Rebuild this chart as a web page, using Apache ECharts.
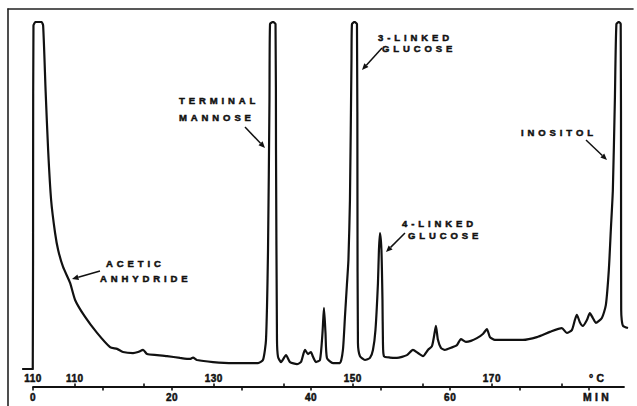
<!DOCTYPE html>
<html>
<head>
<meta charset="utf-8">
<script src="https://cdn.jsdelivr.net/npm/echarts@6/dist/echarts.min.js"></script>
<style>
  html, body { margin: 0; padding: 0; background: #fff; }
  #chart { width: 637px; height: 406px; }
  text[style*="9.5px"] { letter-spacing: 3.9px !important; }
  text[style*="10.4px"] { letter-spacing: 3.4px !important; }
  text[style*="10px"] { letter-spacing: 0.5px !important; }
</style>
</head>
<body>
<div id="chart"></div>
<script>
// Retention time (min) and detector response (% of full scale)
const timeMin = [
  -1.58, -0.05, 0.0, 0.05, 0.35, 1.2, 1.44, 1.8, 2.16, 2.59, 3.16, 3.6, 4.31, 5.32, 6.04, 7.48, 9.2,
  11.07, 12.08, 12.94, 14.38, 15.1, 15.82, 16.4, 17.83, 19.27, 21.14, 22.58, 23.01, 23.59, 25.89,
  28.76, 32.36, 33.08, 33.51, 33.8, 34.01, 34.09, 34.52, 34.88, 34.95, 35.09, 35.24, 35.67, 36.39,
  36.96, 37.97, 38.54, 39.12, 39.55, 39.98, 40.27, 40.7, 41.28, 41.64, 41.85, 42.07, 42.28, 43.15,
  44.15, 44.58, 44.87, 45.15, 45.37, 45.59, 45.81, 45.88, 46.24, 46.6, 46.67, 46.74, 47.03, 47.75,
  48.47, 48.9, 49.26, 49.62, 49.76, 49.91, 50.12, 50.27, 50.34, 50.48, 51.34, 52.35, 53.79, 54.65,
  55.37, 56.09, 56.81, 57.39, 57.67, 57.96, 58.25, 58.68, 59.25, 60.12, 60.98, 61.56, 62.28, 63.0,
  63.86, 64.72, 65.3, 65.73, 66.45, 68.17, 70.47, 72.49, 74.36, 76.08, 76.8, 77.52, 77.95, 78.24,
  78.67, 79.1, 79.68, 80.11, 80.54, 80.97, 81.84, 82.41, 82.84, 83.13, 83.42, 83.71, 83.93, 84.29,
  84.55, 84.6, 84.62, 84.7, 84.9, 85.6
];
const signal = [
  0, 0, 60, 99, 100, 100, 99, 80, 63.1, 48.7, 39.2, 34.3, 29.4, 24.8, 19.9, 15.0, 10.4,
  6.3, 5.8, 4.9, 4.6, 4.9, 5.5, 4.3, 4.0, 3.7, 3.2, 2.9, 3.3, 2.6, 2.0,
  1.7, 1.7, 2.6, 8.4, 34.3, 77.5, 99.4, 100, 99.4, 63.1, 8.4, 3.5, 2.0, 4.0,
  2.0, 1.4, 2.0, 5.5, 4.3, 4.9, 3.5, 2.0, 2.6, 10.4, 17.6, 10.4, 3.2, 1.7,
  1.7, 5.5, 15.0, 24.2, 31.4, 48.7, 89.0, 99.4, 100, 99.4, 48.7, 7.5, 3.7, 2.6,
  3.2, 5.5, 11.2, 24.8, 34.3, 39.2, 34.3, 19.9, 7.5, 3.7, 3.3, 3.2, 4.0, 5.5,
  4.6, 3.7, 5.5, 6.6, 9.2, 12.4, 8.4, 6.1, 5.5, 6.1, 6.9, 8.6, 7.8, 8.1,
  8.9, 10.1, 11.5, 9.2, 8.4, 8.4, 8.4, 9.2, 10.7, 11.8, 10.4, 11.2, 14.1, 15.6,
  13.5, 12.4, 14.1, 16.1, 14.7, 13.3, 14.7, 18.4, 28.5, 40.1, 51.6, 77.5, 99.4, 100,
  99.4, 48.7, 17.0, 14.1, 12.4, 11.8
];

// Time axis (minutes)
const timeTicks = [0, 10, 20, 30, 40, 50, 60, 70, 80];
const timeLabelPos = [0, 20, 40, 60, 81.2];
const timeLabels = ['0', '20', '40', '60', 'MIN'];

// Temperature programme (°C), placed at its time in minutes
const tempTicks = [6, 16, 26, 36, 46, 56, 66, 76];
const tempLabelPos = [0, 6, 26, 46, 66, 81.3];
const tempLabels = ['110', '110', '130', '150', '170', '°C'];

// Peak annotations
const peakNames = [['ACETIC', 'ANHYDRIDE'], ['TERMINAL', 'MANNOSE'], ['3-LINKED', 'GLUCOSE'], ['4-LINKED', 'GLUCOSE'], ['INOSITOL']];

const INK = '#111';
const FONT_FAMILY = '"Liberation Sans", Arial, sans-serif';

function pick(v, pos, labels) {
  for (let i = 0; i < pos.length; i++) if (Math.abs(pos[i] - v) < 0.01) return labels[i];
  return '';
}
function fmt(v, pos, labels) {
  const s = pick(v, pos, labels);
  return /[0-9]/.test(s) ? s : '{u|' + s + '}';
}

// annotation layout (pixels)
const textLayout = [
  [[106, 263], [100, 278]],
  [[179, 100.5], [179, 117]],
  [[378, 37], [382, 48]],
  [[402, 223.5], [408, 235]],
  [[521, 132]]
];
const arrowLayout = [
  [100, 271, 72, 279],
  [245, 127, 265, 148],
  [382, 48, 362, 70],
  [405, 233, 386, 252],
  [586, 140, 607, 160]
];

const graphics = [];
peakNames.forEach((lines, i) => {
  lines.forEach((txt, j) => {
    graphics.push({
      type: 'text', silent: true,
      style: {
        x: textLayout[i][j][0], y: textLayout[i][j][1], text: txt,
        fill: INK, stroke: INK, lineWidth: 0.5, font: 'bold 9.5px ' + FONT_FAMILY,
        textAlign: 'left', textVerticalAlign: 'middle'
      }
    });
  });
  const [x1, y1, x2, y2] = arrowLayout[i];
  const a = Math.atan2(y2 - y1, x2 - x1), L = 6.5, W = 2.8;
  const bx = x2 - L * Math.cos(a), by = y2 - L * Math.sin(a);
  graphics.push({ type: 'line', silent: true, shape: { x1, y1, x2: bx, y2: by }, style: { stroke: INK, lineWidth: 1.5 } });
  graphics.push({
    type: 'polygon', silent: true,
    shape: { points: [[x2, y2], [bx - W * Math.sin(a), by + W * Math.cos(a)], [bx + W * Math.sin(a), by - W * Math.cos(a)]] },
    style: { fill: INK }
  });
});

const chart = echarts.init(document.getElementById('chart'), null, { renderer: 'svg', width: 637, height: 406 });
const hidden = { show: false };
const richU = { u: { fontSize: 10.4, fontWeight: 'bold', fontFamily: FONT_FAMILY, color: INK, textBorderColor: INK, textBorderWidth: 0.5 } };

chart.setOption({
  animation: false,
  backgroundColor: '#fff',
  grid: [
    { left: 22, right: 9, top: 22, bottom: 37 },
    { left: 33, right: 13, top: 370, bottom: 19 },
    { left: 8, right: 4, top: 9, bottom: 0 }
  ],
  xAxis: [
    { gridIndex: 0, type: 'value', min: -1.6, max: 85.6, axisLine: hidden, axisTick: hidden, axisLabel: hidden, splitLine: hidden },
    {
      gridIndex: 1, type: 'value', min: 0, max: 85, position: 'bottom',
      axisLine: { show: true, onZero: false, lineStyle: { color: INK, width: 1.8 } },
      axisTick: { show: true, customValues: timeTicks, length: 3.5, lineStyle: { color: INK, width: 1.6 } },
      axisLabel: {
        show: true, customValues: timeLabelPos, margin: 5,
        formatter: v => fmt(v, timeLabelPos, timeLabels),
        color: INK, fontSize: 10, fontWeight: 'bold', fontFamily: FONT_FAMILY,
        textBorderColor: INK, textBorderWidth: 0.5, rich: richU
      },
      splitLine: hidden
    },
    {
      gridIndex: 1, type: 'value', min: 0, max: 85, position: 'bottom',
      axisLine: hidden,
      axisTick: { show: true, inside: true, customValues: tempTicks, length: 3.5, lineStyle: { color: INK, width: 1.6 } },
      axisLabel: {
        show: true, inside: true, customValues: tempLabelPos, margin: 4,
        formatter: v => fmt(v, tempLabelPos, tempLabels),
        color: INK, fontSize: 10, fontWeight: 'bold', fontFamily: FONT_FAMILY,
        textBorderColor: INK, textBorderWidth: 0.5, rich: richU
      },
      splitLine: hidden
    },
    {
      gridIndex: 2, type: 'value', min: 0, max: 1, position: 'top',
      axisLine: { show: true, onZero: false, lineStyle: { color: '#222', width: 1.6 } },
      axisTick: hidden, axisLabel: hidden, splitLine: hidden
    }
  ],
  yAxis: [
    { gridIndex: 0, type: 'value', min: 0, max: 100, axisLine: hidden, axisTick: hidden, axisLabel: hidden, splitLine: hidden },
    { gridIndex: 1, type: 'value', min: 0, max: 1, axisLine: hidden, axisTick: hidden, axisLabel: hidden, splitLine: hidden },
    {
      gridIndex: 2, type: 'value', min: 0, max: 1, position: 'left',
      axisLine: { show: true, onZero: false, lineStyle: { color: '#222', width: 1.6 } },
      axisTick: hidden, axisLabel: hidden, splitLine: hidden
    }
  ],
  series: [{
    type: 'line', xAxisIndex: 0, yAxisIndex: 0,
    data: timeMin.map((t, i) => [t, signal[i]]),
    showSymbol: false, smooth: 0.2,
    lineStyle: { color: INK, width: 2.2 },
    silent: true
  }],
  graphic: graphics
});
</script>
</body>
</html>
